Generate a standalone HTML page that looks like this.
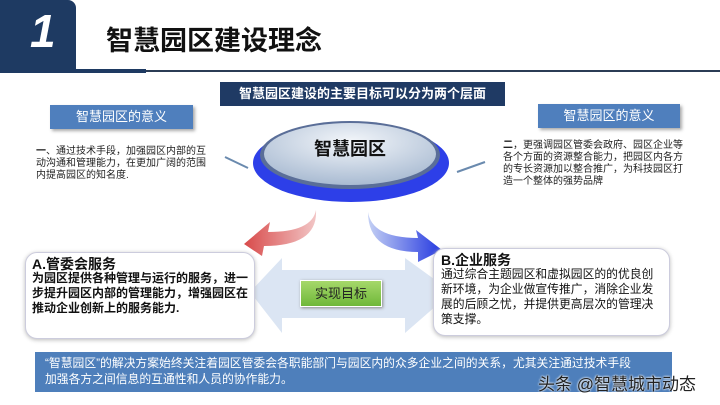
<!DOCTYPE html>
<html><head><meta charset="utf-8"><style>
body{margin:0;width:720px;height:405px;background:#fff;position:relative;overflow:hidden;font-family:"Liberation Sans","Noto Sans CJK SC",sans-serif}
.a{position:absolute}
.lbl{background:#4f7fbd;color:#fff;font-size:13px;text-align:center;line-height:24px;box-shadow:2px 2px 3px #aaa}
.txt{font-size:10px;line-height:12px;color:#222}
.box{background:#fff;border:1px solid #ccd;border-radius:12px;box-shadow:0 1px 4px #bbb}
</style></head><body>
<div class="a" style="left:0;top:0;width:76px;height:73px;background:#1e3a62;border-top-right-radius:8px"></div>
<div class="a" style="left:30px;top:4px;color:#fff;font-size:46px;font-weight:bold;font-style:italic">1</div>
<div class="a" style="left:76px;top:69px;width:70px;height:4px;background:#1e3a62"></div>
<div class="a" style="left:146px;top:70px;width:574px;height:2px;background:#2b3c55"></div>
<div class="a" style="left:106px;top:19px;font-size:27px;font-weight:bold;color:#111">智慧园区建设理念</div>

<div class="a" style="left:220px;top:82px;width:285px;height:24px;background:#1f3a64;color:#fff;font-size:13px;font-weight:bold;text-align:center;line-height:24px">智慧园区建设的主要目标可以分为两个层面</div>
<div class="a lbl" style="left:50px;top:105px;width:143px;height:24px">智慧园区的意义</div>
<div class="a lbl" style="left:538px;top:104px;width:142px;height:24px">智慧园区的意义</div>
<div class="a txt" style="left:36px;top:146px;width:172px"><b>一</b>、通过技术手段，加强园区内部的互动沟通和管理能力，在更加广阔的范围内提高园区的知名度.</div>
<div class="a txt" style="left:503px;top:140px;width:182px"><b>二</b>，更强调园区管委会政府、园区企业等各个方面的资源整合能力，把园区内各方的专长资源加以整合推广，为科技园区打造一个整体的强势品牌</div>

<svg class="a" style="left:0;top:0" width="720" height="405">
<defs>
<radialGradient id="g1" cx="0.5" cy="0.3" r="0.7"><stop offset="0" stop-color="#f3f6fa"/><stop offset="1" stop-color="#a9bbd2"/></radialGradient>
<linearGradient id="rd" x1="0" y1="0" x2="1" y2="0"><stop offset="0" stop-color="#d84a4a"/><stop offset="1" stop-color="#f2c6c6"/></linearGradient>
<linearGradient id="bl" x1="0" y1="0" x2="1" y2="0"><stop offset="0" stop-color="#c4d0f4"/><stop offset="1" stop-color="#2438e0"/></linearGradient>
</defs>
<line x1="225" y1="157" x2="248" y2="168" stroke="#6a8aae" stroke-width="2"/>
<line x1="457" y1="172" x2="485" y2="162" stroke="#6a8aae" stroke-width="2"/>
<ellipse cx="351" cy="163" rx="98" ry="39" fill="#2d3fe8"/>
<ellipse cx="350" cy="155" rx="90" ry="34" fill="#5a6e98"/>
<ellipse cx="350" cy="154" rx="86" ry="31" fill="url(#g1)"/>
<text x="350" y="155" font-size="18" font-weight="bold" text-anchor="middle" fill="#111" font-family="Liberation Sans,Noto Sans CJK SC,sans-serif">智慧园区</text>
<path d="M316 210 Q312 232 268 232 L270 222 L244 244 L262 256 L264 246 Q318 246 316 210Z" fill="url(#rd)"/>
<path d="M368 212 Q372 238 418 238 L416 230 L442 250 L418 262 L418 252 Q368 252 368 212Z" fill="url(#bl)"/>
<path d="M250 292 L282 258 L282 270 L405 270 L405 258 L452 292 L405 333 L405 318 L282 318 L282 333Z" fill="#dbe5f3"/>
</svg>

<div class="a box" style="left:25px;top:252px;width:228px;height:85px"></div>
<div class="a" style="left:32px;top:254px;font-size:14px;font-weight:bold;color:#111">A.管委会服务</div>
<div class="a" style="left:32px;top:271px;width:218px;font-size:12px;line-height:15px;font-weight:bold;color:#111">为园区提供各种管理与运行的服务，进一步提升园区内部的管理能力，增强园区在推动企业创新上的服务能力.</div>
<div class="a box" style="left:433px;top:248px;width:235px;height:86px"></div>
<div class="a" style="left:441px;top:250px;font-size:14px;font-weight:bold;color:#111">B.企业服务</div>
<div class="a" style="left:441px;top:267px;width:216px;font-size:11.8px;line-height:15px;color:#111">通过综合主题园区和虚拟园区的的优良创新环境，为企业做宣传推广，消除企业发展的后顾之忧，并提供更高层次的管理决策支撑。</div>
<div class="a" style="left:300px;top:280px;width:80px;height:25px;background:linear-gradient(#a6d86a,#6fb83a);border:1px solid #fff;box-shadow:1px 1px 3px #888;text-align:center;line-height:25px;font-size:13px;color:#222">实现目标</div>

<div class="a" style="left:35px;top:352px;width:637px;height:40px;background:#4e7fbb;color:#fff;font-size:11.8px;line-height:16px;padding:3px 30px 0 10px;box-sizing:border-box">“智慧园区”的解决方案始终关注着园区管委会各职能部门与园区内的众多企业之间的关系，尤其关注通过技术手段加强各方之间信息的互通性和人员的协作能力。</div>
<div class="a" style="left:538px;top:370px;font-size:17px;color:#222;text-shadow:0 0 2px #fff,0 0 2px #fff">头条 @智慧城市动态</div>
</body></html>
